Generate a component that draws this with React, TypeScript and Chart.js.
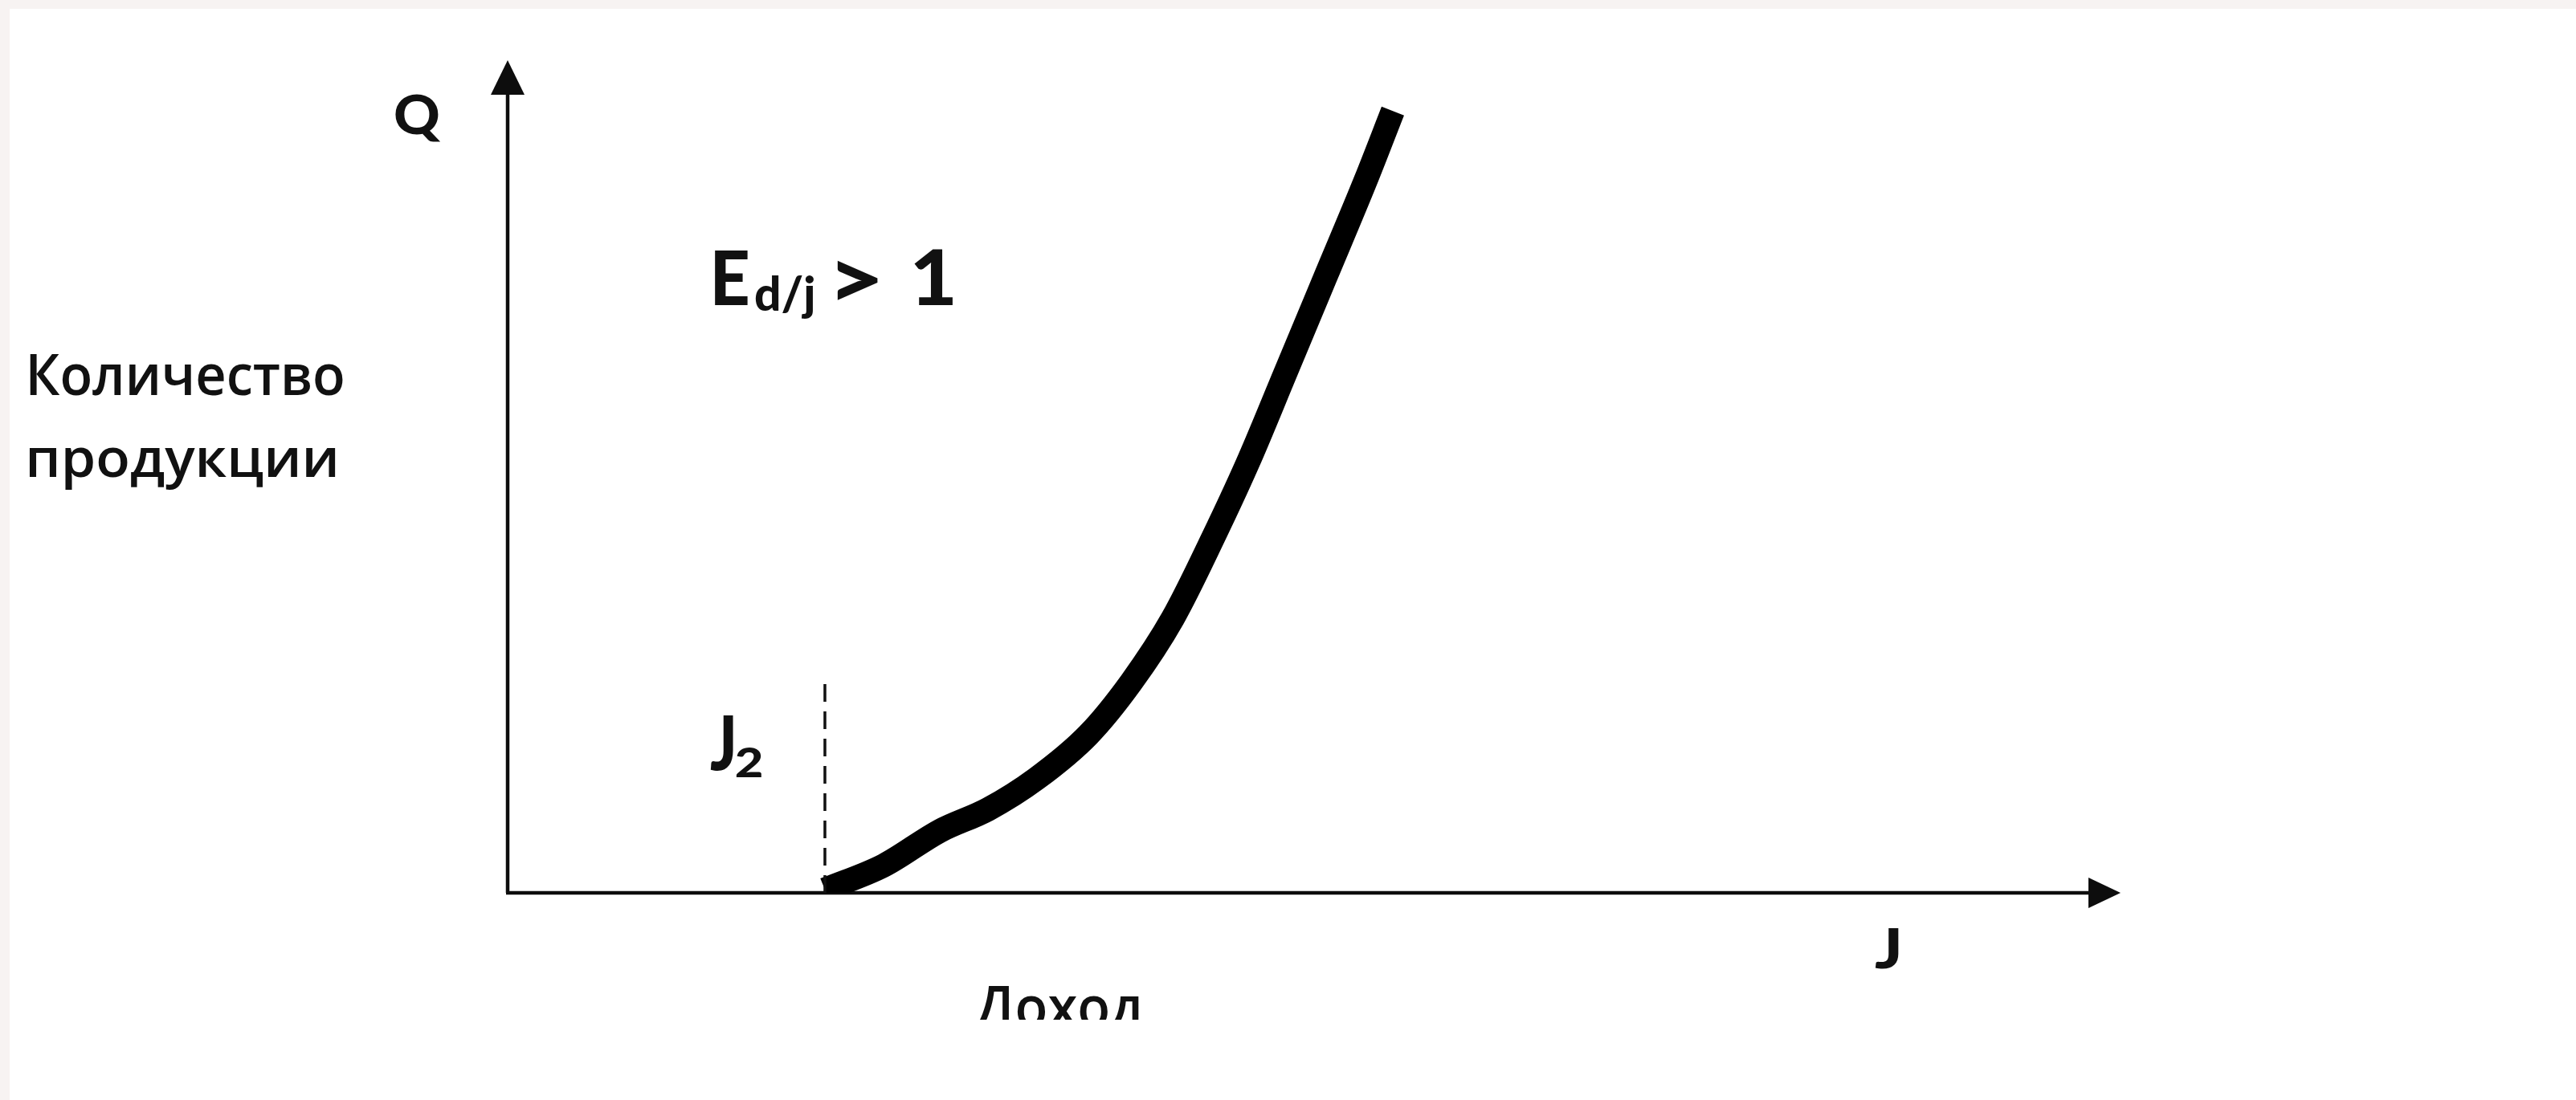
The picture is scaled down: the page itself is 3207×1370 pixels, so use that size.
import React, { useEffect, useRef } from "react";
import { Chart, registerables } from "chart.js";

Chart.register(...registerables);

const W = 3207;
const H = 1370;

// Curve: quantity of product (Q) against income (J), axis units 0..100
const income = [19.67, 23.31, 26.79, 29.78, 32.77, 36.01, 38.65, 41.24, 43.73, 45.92, 48.21, 50.7, 53.19, 54.88];
const quantity = [0.39, 3.28, 7.43, 10.03, 13.69, 19.0, 25.27, 32.98, 42.62, 51.78, 62.39, 73.96, 85.54, 93.9];

// Dashed marker at J2
const j2Income = [19.67, 19.67];
const j2Quantity = [0, 25.3];

const axisMax = 100;

const INK = "#111111";
const LATIN = "Lato, 'Open Sans', sans-serif";
const CYR = "'Open Sans', 'Noto Sans', sans-serif";

function fitBox(ctx: CanvasRenderingContext2D, text: string, font: string, l: number, r: number, t: number, b: number) {
  ctx.save();
  ctx.font = font;
  ctx.textAlign = "left";
  ctx.textBaseline = "alphabetic";
  const m = ctx.measureText(text);
  const iw = m.actualBoundingBoxLeft + m.actualBoundingBoxRight;
  const ih = m.actualBoundingBoxAscent + m.actualBoundingBoxDescent;
  const sx = (r - l) / iw;
  const sy = (b - t) / ih;
  ctx.translate(l + m.actualBoundingBoxLeft * sx, t + m.actualBoundingBoxAscent * sy);
  ctx.scale(sx, sy);
  ctx.fillStyle = INK;
  ctx.fillText(text, 0, 0);
  ctx.restore();
}

const decor = {
  id: "decor",
  beforeDraw(chart: any) {
    const ctx = chart.ctx as CanvasRenderingContext2D;
    ctx.save();
    ctx.fillStyle = "#f7f3f2";
    ctx.fillRect(0, 0, W, H);
    ctx.fillStyle = "#ffffff";
    ctx.fillRect(12, 11, W - 12, H - 11);
    ctx.restore();
  },
  beforeDatasetsDraw(chart: any) {
    const ctx = chart.ctx as CanvasRenderingContext2D;
    const xs = chart.scales.x;
    const ys = chart.scales.y;
    const x0 = xs.getPixelForValue(0);
    const y0 = ys.getPixelForValue(0);
    const xEnd = xs.getPixelForValue(axisMax);
    const yEnd = ys.getPixelForValue(axisMax);
    ctx.save();
    ctx.strokeStyle = "#0d0d0d";
    ctx.fillStyle = "#0d0d0d";
    ctx.lineWidth = 4.5;
    ctx.beginPath();
    ctx.moveTo(x0, y0);
    ctx.lineTo(x0, yEnd + 40);
    ctx.stroke();
    ctx.beginPath();
    ctx.moveTo(x0 - 2, y0);
    ctx.lineTo(xEnd - 38, y0);
    ctx.stroke();
    ctx.beginPath();
    ctx.moveTo(x0, yEnd);
    ctx.lineTo(x0 - 21, yEnd + 43);
    ctx.lineTo(x0 + 21, yEnd + 43);
    ctx.closePath();
    ctx.fill();
    ctx.beginPath();
    ctx.moveTo(xEnd, y0);
    ctx.lineTo(xEnd - 40, y0 - 19);
    ctx.lineTo(xEnd - 40, y0 + 19);
    ctx.closePath();
    ctx.fill();
    ctx.restore();

    // Labels
    fitBox(ctx, "Q", `900 70px ${LATIN}`, 492, 549, 118, 177);
    fitBox(ctx, "Количество", `600 74px ${CYR}`, 37, 427, 440, 493);
    fitBox(ctx, "продукции", `600 74px ${CYR}`, 37, 418, 557, 610);
    fitBox(ctx, "E", `900 94px ${LATIN}`, 890, 931, 312, 380);
    fitBox(ctx, "d/j", `900 60px ${LATIN}`, 940, 1013, 342, 398);
    fitBox(ctx, ">", `900 80px ${LATIN}`, 1042, 1093, 324, 374);
    fitBox(ctx, "1", `900 94px ${LATIN}`, 1138, 1186, 311, 380);
    fitBox(ctx, "J", `900 84px ${LATIN}`, 884, 913, 891, 960);
    fitBox(ctx, "2", `900 50px ${LATIN}`, 916, 948, 931, 968);
    fitBox(ctx, "J", `900 70px ${LATIN}`, 2334, 2364, 1156, 1207);
    ctx.save();
    ctx.beginPath();
    ctx.rect(0, 0, W, 1270);
    ctx.clip();
    fitBox(ctx, "Доход", `600 74px ${CYR}`, 1215, 1423, 1228, 1293);
    ctx.restore();
  },
};

export default function App() {
  const ref = useRef<HTMLCanvasElement | null>(null);
  useEffect(() => {
    document.body.style.margin = "0";
    document.body.style.overflow = "hidden";
    const canvas = ref.current!;
    const curve = income.map((v, i) => ({ x: v, y: quantity[i] }));
    const dash = j2Income.map((v, i) => ({ x: v, y: j2Quantity[i] }));
    const chart = new Chart(canvas, {
      type: "line",
      data: {
        datasets: [
          {
            data: dash,
            borderColor: "#111111",
            borderWidth: 3.5,
            borderDash: [22, 12],
            pointRadius: 0,
            fill: false,
          },
          {
            data: curve,
            borderColor: "#000000",
            borderWidth: 30,
            pointRadius: 0,
            cubicInterpolationMode: "monotone",
            borderJoinStyle: "round",
            fill: false,
          },
        ],
      },
      options: {
        animation: false,
        responsive: false,
        maintainAspectRatio: false,
        devicePixelRatio: 1,
        layout: { padding: { left: 632, right: W - 2640, top: 75, bottom: H - 1112 } },
        plugins: { legend: { display: false }, tooltip: { enabled: false } },
        scales: {
          x: { type: "linear", min: 0, max: axisMax, display: false },
          y: { type: "linear", min: 0, max: axisMax, display: false },
        },
      },
      plugins: [decor],
    } as any);
    return () => chart.destroy();
  }, []);
  return (
    <div style={{ position: "absolute", left: 0, top: 0, width: W, height: H }}>
      <canvas ref={ref} width={W} height={H} style={{ width: W, height: H, display: "block" }} />
    </div>
  );
}
